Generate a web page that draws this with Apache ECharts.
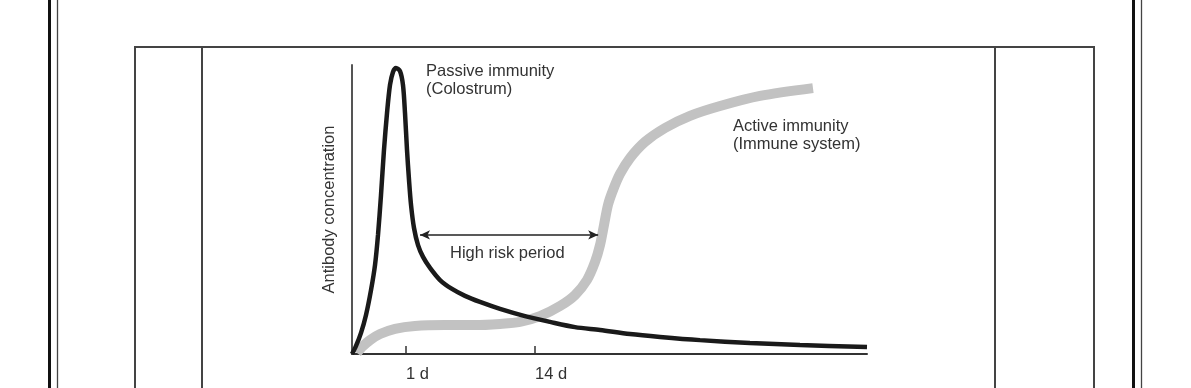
<!DOCTYPE html>
<html>
<head>
<meta charset="utf-8">
<script src="https://cdn.jsdelivr.net/npm/echarts@6/dist/echarts.min.js"></script>
<style>
  html, body { margin: 0; padding: 0; background: #fff; }
  #chart { width: 1191px; height: 388px; }
</style>
</head>
<body>
<div id="chart"></div>
<script>
// time runs 0..100 across the axis, concentration 0..100 up the axis
const passiveCurve = [
  [0, 0], [0.78, 2.8], [1.75, 7.3], [2.72, 13.5], [3.69, 22.1], [4.47, 30.8],
  [5.05, 41.2], [5.63, 55.0], [6.21, 70.6], [6.80, 83.4], [7.38, 93.1], [7.96, 97.6],
  [8.54, 99.0], [9.32, 97.9], [9.90, 93.1], [10.29, 83.4], [10.68, 70.6],
  [11.07, 60.2], [11.46, 51.6], [12.04, 43.6], [12.82, 37.7], [13.79, 33.6],
  [15.15, 29.8], [17.09, 25.6], [19.42, 22.5], [21.94, 20.1], [24.85, 18.0],
  [28.74, 15.6], [33.59, 13.1], [38.45, 11.1], [43.30, 9.3], [48.16, 8.3],
  [53.98, 6.9], [59.81, 5.9], [67.57, 4.8], [77.28, 3.8], [86.99, 3.1], [100, 2.4]
];
const activeCurve = [
  [0.97, 0.35], [1.94, 2.4], [3.50, 4.8], [5.44, 6.9], [8.35, 8.7], [12.23, 9.7],
  [18.06, 10.0], [23.88, 10.0], [28.74, 10.4], [32.62, 11.1], [36.50, 13.1],
  [40.39, 16.6], [43.30, 20.4], [45.63, 25.6], [47.18, 31.8], [48.16, 37.7],
  [48.93, 44.6], [49.71, 51.6], [50.68, 56.7], [52.04, 62.3], [53.98, 67.8],
  [56.89, 73.4], [60.78, 78.2], [65.63, 82.4], [71.46, 85.8], [79.22, 89.3], [89.51, 92.0]
];
const tickValues = [10.49, 35.53];
const tickLabels = ['1 d', '14 d'];
const riskStart = 13.2;
const riskEnd = 47.8;
const riskLevel = 41.2;

const FONT = '"Liberation Sans", Arial, sans-serif';
const txt = '#333';

const chart = echarts.init(document.getElementById('chart'), null, { renderer: 'canvas' });

function vline(x, y1, y2, w, c) {
  return { type: 'line', shape: { x1: x, y1: y1, x2: x, y2: y2 }, style: { stroke: c, lineWidth: w }, silent: true };
}
function hline(y, x1, x2, w, c) {
  return { type: 'line', shape: { x1: x1, y1: y, x2: x2, y2: y }, style: { stroke: c, lineWidth: w }, silent: true };
}
function label(x, y, text) {
  return {
    type: 'text', left: x, top: y, silent: true,
    style: { text: text, font: '16.5px ' + FONT, fill: txt, lineHeight: 18 }
  };
}

const option = {
  animation: false,
  backgroundColor: '#fff',
  grid: { left: 352, top: 65, width: 515, height: 289, outerBoundsMode: 'none', containLabel: false },
  xAxis: {
    type: 'value', min: 0, max: 100,
    name: 'Time', nameLocation: 'middle', nameGap: 38,
    nameTextStyle: { fontFamily: FONT, fontSize: 16.5, color: '#999' },
    splitLine: { show: false },
    axisLine: { lineStyle: { color: '#333', width: 2 } },
    axisTick: { show: true, inside: true, length: 8, customValues: tickValues, lineStyle: { color: '#333', width: 1.5 } },
    axisLabel: {
      customValues: tickValues, align: 'left', margin: 12,
      fontFamily: FONT, fontSize: 16.5, color: txt,
      formatter: function (v) {
        const i = tickValues.indexOf(v);
        return i >= 0 ? tickLabels[i] : '';
      }
    }
  },
  yAxis: {
    type: 'value', min: 0, max: 100,
    name: 'Antibody concentration', nameLocation: 'middle', nameGap: 14, nameRotate: 90,
    nameTextStyle: { fontFamily: FONT, fontSize: 16.5, color: txt },
    splitLine: { show: false },
    axisLine: { show: true, lineStyle: { color: '#555', width: 2 } },
    axisTick: { show: false },
    axisLabel: { show: false }
  },
  series: [
    {
      name: 'Active immunity', type: 'line', data: activeCurve,
      smooth: 0.3, symbol: 'none',
      lineStyle: { color: '#c2c2c2', width: 10, cap: 'butt' }
    },
    {
      name: 'Passive immunity', type: 'line', data: passiveCurve,
      smooth: 0.3, symbol: 'none',
      lineStyle: { color: '#1a1a1a', width: 4.5, cap: 'butt' },
      markLine: {
        silent: true, symbol: ['arrow', 'arrow'], symbolSize: [7, 10],
        label: { show: false },
        lineStyle: { color: '#222', width: 1.5, type: 'solid' },
        data: [[{ coord: [riskStart, riskLevel] }, { coord: [riskEnd, riskLevel] }]]
      }
    }
  ],
  graphic: [
    // page / table frame
    vline(49.5, 0, 388, 3, '#111'),
    vline(57.5, 0, 388, 1.3, '#444'),
    vline(1133.5, 0, 388, 3, '#111'),
    vline(1141.5, 0, 388, 1.3, '#444'),
    hline(47, 134, 1095, 2, '#444'),
    vline(135, 47, 388, 2, '#444'),
    vline(202, 47, 388, 2, '#444'),
    vline(995, 47, 388, 2, '#444'),
    vline(1094, 47, 388, 2, '#444'),
    // annotations
    label(426, 62, 'Passive immunity\n(Colostrum)'),
    label(733, 117, 'Active immunity\n(Immune system)'),
    label(450, 244, 'High risk period')
  ]
};
chart.setOption(option);
</script>
</body>
</html>
